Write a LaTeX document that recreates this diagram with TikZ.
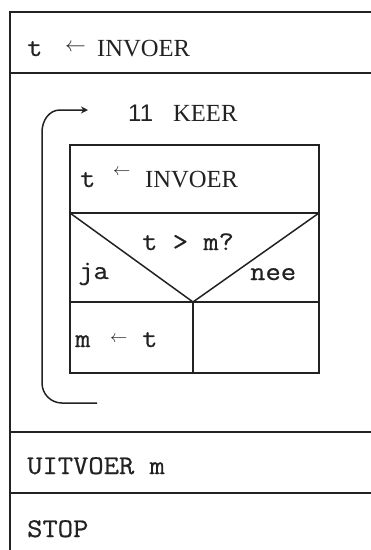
\documentclass[tikz,border=0pt]{standalone}
\usepackage{fontspec}
\setmainfont{Liberation Serif}
\newfontfamily\monof[FakeStretch=1.1,FakeBold=0.6]{Latin Modern Mono}
\newfontfamily\serf{Liberation Serif}
\newfontfamily\sansf{Liberation Sans}
\usetikzlibrary{arrows.meta}
\definecolor{ink}{HTML}{222222}
\begin{document}
\begin{tikzpicture}[x=1pt,y=-1pt,
  line/.style={draw=ink,line width=1.5pt},
  txt/.style={anchor=base west,inner sep=0pt,text=ink,font=\monof\fontsize{27}{27}\selectfont}]
\useasboundingbox (0,0) rectangle (371,550);
% outer structure
\draw[line] (371,12) -- (10,12) -- (10,550);
\draw[line] (10,73) -- (371,73);
\draw[line] (10,432) -- (371,432);
\draw[line] (10,493) -- (371,493);
% texts outer
\node[txt] (in1) at (27,56) {\rlap{t}\hspace*{38pt}\rlap{\raisebox{5pt}{\fontsize{22}{22}\selectfont$\leftarrow$}}\hspace*{32pt}{\serf\fontsize{24.6}{25}\selectfont INVOER}};
\node[txt] (keer) at (128,121) {\rlap{\sansf\fontsize{24}{24}\selectfont 11}\hspace*{45pt}{\serf\fontsize{24.6}{25}\selectfont KEER}};
% inner box
\draw[line] (70,145) rectangle (319,373);
\draw[line] (70,213) -- (319,213);
\draw[line] (70,302) -- (319,302);
\coordinate (apex) at (193,302);
\draw[line] (70,213) -- (apex) -- (319,213);
\draw[line] (apex) -- (193,373);
\node[txt] (in2) at (80,187) {\rlap{t}\hspace*{33pt}\rlap{\raisebox{12pt}{\fontsize{17}{17}\selectfont$\leftarrow$}}\hspace*{32pt}{\serf\fontsize{24.6}{25}\selectfont INVOER}};
\node[txt] (cond) at (142,250) {t >~m?};
\node[txt] (ja) at (78,279) {ja};
\node[txt] (nee) at (250,280) {nee};
\node[txt] (mt) at (75,347) {\rlap{m}\hspace*{35pt}\rlap{\raisebox{5pt}{\fontsize{16}{16}\selectfont$\leftarrow$}}\hspace*{32pt}t};
% loop arrow
\coordinate (lend) at (97,403);
\coordinate (ltip) at (88,110);
\draw[line,-{Stealth[length=7pt,width=7pt]}] (lend) -- (62,403) to[out=180,in=270] (42,383) -- (42,132) to[out=90,in=180] (60,110) -- (ltip);
% bottom texts
\node[txt] (out) at (27,474) {UITVOER m};
\node[txt] (stop) at (27,537) {STOP};
\end{tikzpicture}
\end{document}
